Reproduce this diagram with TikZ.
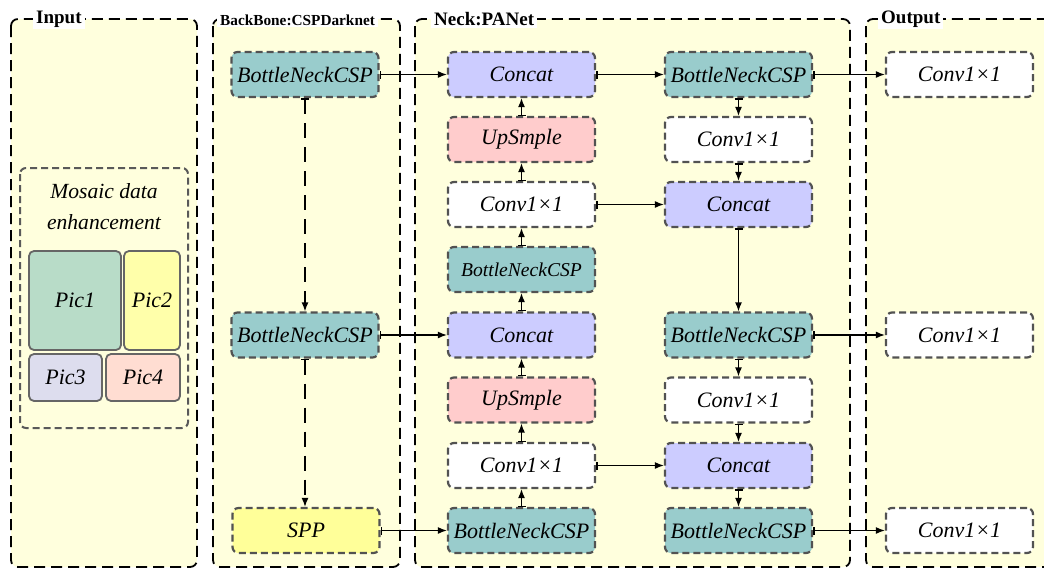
\documentclass[tikz,border=0pt]{standalone}
\usepackage{fontspec}
\setmainfont{Liberation Serif}
\usetikzlibrary{arrows.meta}
\definecolor{panel}{HTML}{FFFFDD}
\definecolor{teal1}{HTML}{99CCCC}
\definecolor{lav}{HTML}{CCCCFF}
\definecolor{pinkup}{HTML}{FFCCCC}
\definecolor{sppy}{HTML}{FFFF99}
\definecolor{pica}{HTML}{B8DCC8}
\definecolor{picb}{HTML}{FFFFAA}
\definecolor{picc}{HTML}{DDDDEE}
\definecolor{picd}{HTML}{FFDDD2}
\begin{document}
\begin{tikzpicture}[x=1pt,y=-1pt,
  panelbox/.style={draw=black, line width=1.8pt, dash pattern=on 11pt off 6pt, rounded corners=7pt, fill=panel},
  ptitle/.style={fill=white, font=\bfseries\fontsize{19}{19}\selectfont, inner xsep=3pt, inner ysep=1.5pt, anchor=west},
  blk/.style={draw=black!68, line width=2.2pt, dash pattern=on 7pt off 4pt, rounded corners=6pt, minimum width=147pt, minimum height=45pt, inner sep=0pt, font=\itshape\fontsize{22}{22}\selectfont},
  bn/.style={blk, fill=teal1},
  cc/.style={blk, fill=lav},
  up/.style={blk, fill=pinkup},
  cv/.style={blk, fill=white},
  sp/.style={blk, fill=sppy},
  picbox/.style={draw=black!60, line width=1.8pt, rounded corners=5pt, inner sep=0pt, font=\itshape\fontsize{22}{22}\selectfont},
  arr/.style={line width=1.4pt, {Bar[width=8pt]}-{Latex[length=9pt,width=7pt]}},
  dasharr/.style={arr, dash pattern=on 15pt off 9pt},
]
\useasboundingbox (0,0) rectangle (1044,570);
\clip (0,0) rectangle (1044,570);

% panels
\draw[panelbox] (11,19) rectangle (197,567);
\draw[panelbox] (213,19) rectangle (400,567);
\draw[panelbox] (415,19) rectangle (850,567);
\draw[panelbox] (866,19) rectangle (1080,567);
\node[ptitle] (tin) at (33,19.5) {Input};
\node[ptitle, font=\bfseries\fontsize{15.3}{15.3}\selectfont] (tbb) at (217,20) {BackBone:CSPDarknet};
\node[ptitle] (tneck) at (431,19.5) {Neck:PANet};
\node[ptitle] (tout) at (878,19.5) {Output};

% mosaic
\draw[draw=black!65, line width=2pt, dash pattern=on 7pt off 4pt, rounded corners=6pt] (20,168) rectangle (188,428);
\node[align=center, font=\itshape\fontsize{21.6}{31}\selectfont] (mos) at (104,207) {Mosaic data\\enhancement};
\node[picbox, fill=pica, minimum width=92pt, minimum height=99pt] (p1) at (75,300.5) {Pic1};
\node[picbox, fill=picb, minimum width=56pt, minimum height=99pt] (p2) at (152,300.5) {Pic2};
\node[picbox, fill=picc, minimum width=73pt, minimum height=47pt] (p3) at (65.5,377.5) {Pic3};
\node[picbox, fill=picd, minimum width=74pt, minimum height=47pt] (p4) at (143,377.5) {Pic4};

% backbone
\node[bn] (bb1) at (305,74.5) {BottleNeckCSP};
\node[bn] (bb2) at (305,335) {BottleNeckCSP};
\node[sp] (spp) at (306,530.5) {SPP};

% neck col1
\node[cc] (a1) at (521.5,74.5) {Concat};
\node[up] (a2) at (521.5,139.5) {UpSmple};
\node[cv] (a3) at (521.5,204.5) {Conv1×1};
\node[bn, font=\itshape\fontsize{19.6}{19.6}\selectfont] (a4) at (521.5,269.5) {BottleNeckCSP};
\node[cc] (a5) at (521.5,335) {Concat};
\node[up] (a6) at (521.5,400) {UpSmple};
\node[cv] (a7) at (521.5,465.5) {Conv1×1};
\node[bn] (a8) at (521.5,530.5) {BottleNeckCSP};

% neck col2
\node[bn] (b1) at (738.5,74.5) {BottleNeckCSP};
\node[cv] (b2) at (738.5,139.5) {Conv1×1};
\node[cc] (b3) at (738.5,204.5) {Concat};
\node[bn] (b5) at (738.5,335) {BottleNeckCSP};
\node[cv] (b6) at (738.5,400) {Conv1×1};
\node[cc] (b7) at (738.5,465.5) {Concat};
\node[bn] (b8) at (738.5,530.5) {BottleNeckCSP};

% output
\node[cv] (o1) at (959.5,74.5) {Conv1×1};
\node[cv] (o2) at (959.5,335) {Conv1×1};
\node[cv] (o3) at (959.5,530.5) {Conv1×1};

% connectors
\draw[dasharr] (bb1) -- (bb2);
\draw[dasharr] (bb2) -- (bb2 |- spp.north);
\draw[arr] (bb1) -- (a1);
\draw[arr] (bb2) -- (a5);
\draw[arr] (spp) -- (a8);
\draw[arr] (a8) -- (a7);
\draw[arr] (a7) -- (a6);
\draw[arr] (a6) -- (a5);
\draw[arr] (a5) -- (a4);
\draw[arr] (a4) -- (a3);
\draw[arr] (a3) -- (a2);
\draw[arr] (a2) -- (a1);
\draw[arr] (a1) -- (b1);
\draw[arr] (b1) -- (b2);
\draw[arr] (b2) -- (b3);
\draw[arr] (a3) -- (b3);
\draw[arr] (b3) -- (b5);
\draw[arr] (b5) -- (b6);
\draw[arr] (b6) -- (b7);
\draw[arr] (a7) -- (b7);
\draw[arr] (b7) -- (b8);
\draw[arr] (b1) -- (o1);
\draw[arr] (b5) -- (o2);
\draw[arr] (b8) -- (o3);
\end{tikzpicture}
\end{document}
